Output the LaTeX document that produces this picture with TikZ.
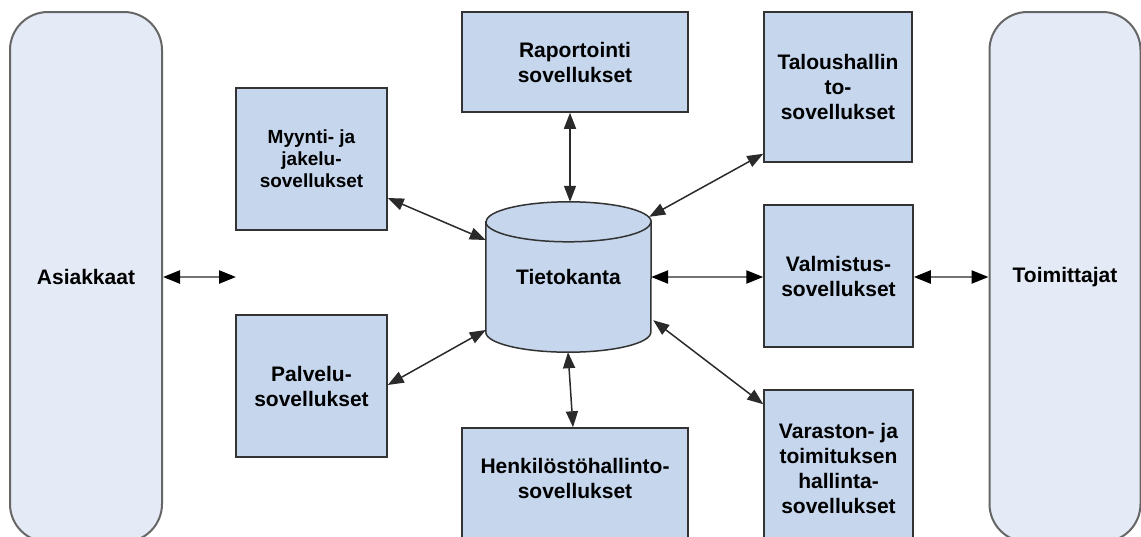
\documentclass[tikz,border=0pt]{standalone}
\usepackage{fontspec}
\setmainfont{Liberation Sans}
\usetikzlibrary{arrows.meta}
\definecolor{boxfill}{HTML}{C5D6ED}
\definecolor{sidefill}{HTML}{E4EBF6}
\definecolor{edge}{HTML}{333333}
\definecolor{sideedge}{HTML}{666666}
\definecolor{link}{HTML}{2A2A2A}
\begin{document}
\begin{tikzpicture}[x=1pt,y=-1pt,
  txt/.style={font=\bfseries\fontsize{21}{25}\selectfont, align=center, text=black},
  appbox/.style={draw=edge, fill=boxfill, line width=1.5pt, inner sep=0pt, txt},
  party/.style={draw=sideedge, fill=sidefill, line width=2pt, rounded corners=38pt,
                minimum width=152pt, minimum height=530pt, inner sep=0pt, txt},
  link/.style={draw=link, line width=1.5pt,
               {Triangle[length=16pt,width=12pt]}-{Triangle[length=16pt,width=12pt]}},
  hlink/.style={draw=black!55, line width=2.4pt,
               {Triangle[length=17pt,width=13pt,color=black]}-{Triangle[length=17pt,width=13pt,color=black]}}
]
\useasboundingbox (0,0) rectangle (1141,536);
\clip (0,0) rectangle (1141,536);

% customers and suppliers
\node[party] (asi) at (86,277) {Asiakkaat};
\node[party, minimum width=151pt] (toi) at (1065,277) {Toimittajat};

% application boxes
\node[appbox, minimum width=226pt, minimum height=100pt] (rap) at (575,62) {Raportointi\\sovellukset};
\node[appbox, minimum width=148pt, minimum height=150pt] (tal) at (838,87) {Taloushallin\\to-\\sovellukset};
\node[appbox, minimum width=151pt, minimum height=142pt,
      font=\bfseries\fontsize{19}{22}\selectfont] (myy) at (311.5,159) {Myynti- ja\\jakelu-\\sovellukset};
\node[appbox, minimum width=151pt, minimum height=142pt] (pal) at (311.5,386) {Palvelu-\\sovellukset};
\node[appbox, minimum width=149pt, minimum height=142pt] (val) at (838.5,276) {Valmistus-\\sovellukset};
\node[appbox, minimum width=149pt, minimum height=156pt] (var) at (838.5,468) {Varaston- ja\\toimituksen\\hallinta-\\sovellukset};
\node[appbox, minimum width=226pt, minimum height=118pt] (henk) at (575,487) {};
\node[txt] (henkt) at (575,478) {Henkilöstöhallinto-\\sovellukset};

% database cylinder
\node[minimum width=165pt, minimum height=150pt, inner sep=0pt] (db) at (568.5,277) {};
\filldraw[fill=boxfill, draw=edge, line width=1.5pt]
  ([yshift=-20pt]db.north west) -- ([yshift=20pt]db.south west)
  arc[start angle=180, end angle=360, x radius=82.5pt, y radius=20pt]
  -- ([yshift=-20pt]db.north east)
  arc[start angle=0, end angle=180, x radius=82.5pt, y radius=20pt] -- cycle;
\draw[draw=edge, line width=1.5pt] ([yshift=-20pt]db.north west)
  arc[start angle=180, end angle=360, x radius=82.5pt, y radius=20pt];
\node[txt] (dbt) at (db.center) {Tietokanta};

% connectors
\coordinate (asiend) at (236,277);
\draw[hlink] (asi.east) -- (asiend);
\draw[link] ([xshift=-5pt]rap.south) -- ([xshift=1.5pt]db.north);
\draw[link] ([xshift=-0.5pt]db.south) -- ([xshift=-2pt]henk.north);
\draw[link] ([yshift=9pt]tal.south west) -- ([shift={(-2pt,-15pt)}]db.north east);
\draw[link] ([yshift=-39pt]myy.east) -- ([yshift=37pt]db.west);
\draw[link] ([yshift=1pt]pal.east) -- ([yshift=-53pt]db.west);
\draw[hlink] (db.east) -- ([yshift=-1pt]val.west);
\draw[hlink] ([yshift=-1pt]val.east) -- (toi.west);
\draw[link] ([shift={(2pt,32pt)}]db.south east) -- ([yshift=-15pt]var.north west);
\end{tikzpicture}
\end{document}
